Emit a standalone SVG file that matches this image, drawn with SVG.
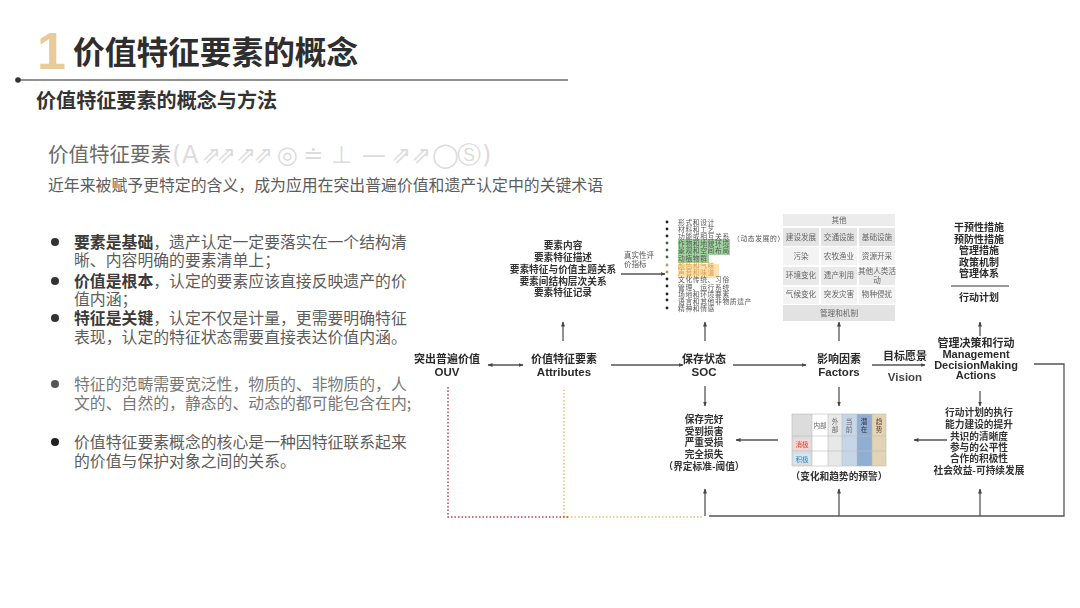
<svg xmlns="http://www.w3.org/2000/svg" width="1080" height="608" viewBox="0 0 1080 608">
<style>
text{font-family:"Noto Sans CJK SC","Liberation Sans",sans-serif}
.en{font-family:"Liberation Sans","Noto Sans CJK SC",sans-serif;font-weight:700}
.b{font-size:15.85px;fill:#5c5c5c}
.s{font-weight:700;fill:#333}
.n{font-size:11px;font-weight:700;fill:#2b2b2b;text-anchor:middle}
.l{font-size:9.7px;font-weight:700;fill:#333;text-anchor:middle}
.i{font-size:6.8px;letter-spacing:.6px;fill:#555}
.g{font-size:7.6px;fill:#666;text-anchor:middle}
.t{font-size:6.6px;fill:#666;text-anchor:middle}
.ln{fill:none;stroke:#555;stroke-width:1.3}
.ar{marker-end:url(#a)}
</style>
<defs>
<marker id="a" markerWidth="6" markerHeight="6" refX="4.5" refY="2.5" orient="auto" markerUnits="userSpaceOnUse"><path d="M0 .5L5 2.5L0 4.5Z" fill="#444"/></marker>
<marker id="as" markerWidth="6" markerHeight="6" refX="4.5" refY="2.5" orient="auto-start-reverse" markerUnits="userSpaceOnUse"><path d="M0 .5L5 2.5L0 4.5Z" fill="#444"/></marker>
<filter id="soft" x="-5%" y="-5%" width="110%" height="110%"><feGaussianBlur stdDeviation="0.3"/></filter>
</defs>
<rect width="1080" height="608" fill="#fff"/>
<g id="header">
<text x="37" y="69" class="en" style="font-size:52px;fill:#e8cb98">1</text>
<text x="73" y="64" style="font-size:31.7px;font-weight:700;fill:#2e2e2e">价值特征要素的概念</text>
<line x1="18" y1="80" x2="568" y2="80" stroke="#6e6e6e" stroke-width="1.6"/>
<circle cx="18" cy="80" r="2.8" fill="#333"/>
<text x="36" y="108" class="s" style="font-size:20.1px">价值特征要素的概念与方法</text>
<text x="48" y="162" style="font-size:20.5px;fill:#6a6a6a">价值特征要素</text>
<text y="163" x="172 182 201 216 236 253 277 303 331 362 391 411 432 457 482" style="font-family:'DejaVu Sans',sans-serif;font-size:24px;fill:#dcdcdc">(A⇗⇗⇗⇗◎≐⊥—⇗⇗◯Ⓢ)</text>
<text x="48" y="191" style="font-size:15.86px;fill:#5c5c5c">近年来被赋予更特定的含义，成为应用在突出普遍价值和遗产认定中的关键术语</text>
</g>
<g id="bullets">
<circle cx="55" cy="242" r="4" fill="#333"/><circle cx="55" cy="281" r="4" fill="#333"/><circle cx="55" cy="318" r="4" fill="#333"/><circle cx="55" cy="384" r="4" fill="#555"/><circle cx="55" cy="442" r="4" fill="#222"/>
<text x="74" y="248" class="b"><tspan font-weight="700" fill="#3a3a3a">要素是基础</tspan>，遗产认定一定要落实在一个结构清</text>
<text x="74" y="266" class="b">晰、内容明确的要素清单上；</text>
<text x="74" y="287" class="b"><tspan font-weight="700" fill="#3a3a3a">价值是根本</tspan>，认定的要素应该直接反映遗产的价</text>
<text x="74" y="305" class="b">值内涵；</text>
<text x="74" y="324" class="b"><tspan font-weight="700" fill="#3a3a3a">特征是关键</tspan>，认定不仅是计量，更需要明确特征</text>
<text x="74" y="343" class="b">表现，认定的特征状态需要直接表达价值内涵。</text>
<text x="74" y="390" class="b" style="fill:#777">特征的范畴需要宽泛性，物质的、非物质的，人</text>
<text x="74" y="409" class="b" style="fill:#777">文的、自然的，静态的、动态的都可能包含在内;</text>
<text x="74" y="448" class="b">价值特征要素概念的核心是一种因特征联系起来</text>
<text x="74" y="467" class="b">的价值与保护对象之间的关系。</text>
</g>
<g filter="url(#soft)">
<g id="connectors">
<path class="ln" d="M488 365H523" marker-start="url(#as)" marker-end="url(#as)"/>
<path class="ln ar" d="M611 365H683"/>
<path class="ln ar" d="M733 365H806"/>
<path class="ln ar" d="M872 365H925"/>
<path class="ln ar" d="M563 341V322"/>
<path class="ln ar" d="M705 341V322"/>
<path class="ln ar" d="M839 341V322"/>
<path class="ln ar" d="M980 336V322"/>
<path class="ln ar" d="M705 386V406"/>
<path class="ln ar" d="M839 387V406"/>
<path class="ln ar" d="M980 391V406"/>
<path class="ln ar" d="M621 274H665"/>
<path class="ln ar" d="M778 440H736"/>
<path class="ln ar" d="M947 440H914"/>
<path class="ln ar" d="M705 516V489"/>
<path class="ln ar" d="M839 516V489"/>
<path class="ln ar" d="M980 516V489"/>
<path class="ln" d="M709 516H1064V364H1034"/>
<path d="M564 517H704M564 517V387" fill="none" stroke="#e2c670" stroke-width="1.5" stroke-dasharray="1.5 2"/>
<path d="M568 517H448V387" fill="none" stroke="#b8404c" stroke-width="1.5" stroke-dasharray="1.5 2"/>
</g>
<g id="node-ouv"><text x="447" y="363" class="n">突出普遍价值</text><text x="447" y="376" class="n en" style="font-size:11.5px">OUV</text></g>
<g id="node-attributes"><text x="564" y="363" class="n">价值特征要素</text><text x="564" y="376" class="n en" style="font-size:11.5px">Attributes</text></g>
<g id="node-soc"><text x="704" y="363" class="n">保存状态</text><text x="704" y="376" class="n en" style="font-size:11.5px">SOC</text></g>
<g id="node-factors"><text x="839" y="363" class="n">影响因素</text><text x="839" y="376" class="n en" style="font-size:11.5px">Factors</text></g>
<g id="label-vision"><text x="905" y="360" class="n">目标愿景</text><text x="905" y="381" class="n en" style="font-size:11.5px;fill:#444">Vision</text></g>
<g id="node-management"><text x="976" y="347" class="n">管理决策和行动</text><text x="976" y="358" class="n en">Management</text><text x="976" y="369" class="n en">DecisionMaking</text><text x="976" y="379" class="n en">Actions</text></g>
<g id="node-attr-content">
<text x="563" y="249" class="l">要素内容</text><text x="563" y="261" class="l">要素特征描述</text><text x="563" y="273" class="l">要素特征与价值主题关系</text><text x="563" y="285" class="l">要素间结构层次关系</text><text x="563" y="296" class="l">要素特征记录</text>
</g>
<g id="label-authenticity"><text x="624" y="258" style="font-size:7.5px;fill:#555">真实性评</text><text x="624" y="267" style="font-size:7.5px;fill:#555">价指标</text></g>
<g id="node-list">
<rect x="678" y="239" width="52" height="16" fill="#9fd49f"/><rect x="678" y="255" width="31" height="8" fill="#9fd49f"/><rect x="678" y="264" width="41" height="14" fill="#fde2b0"/>
<g fill="#222"><circle cx="667" cy="222" r="1.4"/><circle cx="667" cy="229" r="1.4"/><circle cx="667" cy="236" r="1.4"/><circle cx="667" cy="243" r="1.4" fill="#3a6a4a"/><circle cx="667" cy="250" r="1.4" fill="#3a6a4a"/><circle cx="667" cy="257" r="1.4" fill="#3a6a4a"/><circle cx="667" cy="265" r="1.4" fill="#b89a5a"/><circle cx="667" cy="272" r="1.4" fill="#b89a5a"/><circle cx="667" cy="279" r="1.4"/><circle cx="667" cy="286" r="1.4"/><circle cx="667" cy="294" r="1.4"/><circle cx="667" cy="300" r="1.4"/><circle cx="667" cy="308" r="1.4"/></g>
<text x="678" y="225" class="i">形式和设计</text><text x="678" y="232" class="i">材料和工艺</text><text x="678" y="239" class="i">功能或相互关系</text><text x="733" y="241" class="i">（动态发展的）</text><text x="678" y="246" class="i">作物和地貌环境</text><text x="678" y="253" class="i">景观和空间布局</text><text x="678" y="261" class="i">动植物群</text><text x="678" y="268" class="i" style="fill:#d9a050">颜色和气味</text><text x="678" y="275" class="i" style="fill:#d9a050">声音和味道</text><text x="678" y="282" class="i">文化传统、习俗</text><text x="678" y="290" class="i">管理、运行系统</text><text x="678" y="297" class="i">场地和环境要素</text><text x="678" y="304" class="i">语言和其他非物质遗产</text><text x="678" y="311" class="i">精神和情感</text>
</g>
<g id="node-factor-grid">
<rect x="783" y="214" width="112" height="12" fill="#ececec"/>
<rect x="783" y="228" width="36" height="18" fill="#e4e4e4"/><rect x="821" y="228" width="36" height="18" fill="#e4e4e4"/><rect x="859" y="228" width="36" height="18" fill="#e4e4e4"/>
<rect x="783" y="247" width="36" height="18" fill="#f3f3f3"/><rect x="821" y="247" width="36" height="18" fill="#f3f3f3"/><rect x="859" y="247" width="36" height="18" fill="#f3f3f3"/>
<rect x="783" y="267" width="36" height="18" fill="#e9e9e9"/><rect x="821" y="267" width="36" height="18" fill="#e9e9e9"/><rect x="859" y="267" width="36" height="18" fill="#e9e9e9"/>
<rect x="783" y="287" width="36" height="17" fill="#f3f3f3"/><rect x="821" y="287" width="36" height="17" fill="#f3f3f3"/><rect x="859" y="287" width="36" height="17" fill="#f3f3f3"/>
<rect x="783" y="305" width="112" height="16" fill="#e2e2e2"/>
<text x="839" y="223" class="g">其他</text>
<text x="801" y="240" class="g">建设发展</text><text x="839" y="240" class="g">交通设施</text><text x="877" y="240" class="g">基础设施</text>
<text x="801" y="259" class="g">污染</text><text x="839" y="259" class="g">农牧渔业</text><text x="877" y="259" class="g">资源开采</text>
<text x="801" y="278" class="g">环境变化</text><text x="839" y="278" class="g">遗产利用</text><text x="877" y="274" class="g">其他人类活</text><text x="877" y="283" class="g">动</text>
<text x="801" y="297" class="g">气候变化</text><text x="839" y="297" class="g">突发灾害</text><text x="877" y="297" class="g">物种侵扰</text>
<text x="839" y="316" class="g">管理和机制</text>
</g>
<g id="node-actions"><text x="979" y="231" class="n" style="font-size:10px">干预性措施</text><text x="979" y="243" class="n" style="font-size:10px">预防性措施</text><text x="979" y="254" class="n" style="font-size:10px">管理措施</text><text x="979" y="266" class="n" style="font-size:10px">政策机制</text><text x="979" y="277" class="n" style="font-size:10px">管理体系</text><line x1="951" y1="286" x2="1009" y2="286" stroke="#333" stroke-width="1"/><text x="979" y="301" class="n" style="font-size:10px">行动计划</text></g>
<g id="node-status"><text x="704" y="423" class="l">保存完好</text><text x="704" y="435" class="l">受到损害</text><text x="704" y="446" class="l">严重受损</text><text x="704" y="458" class="l">完全损失</text><text x="704" y="470" class="l">（界定标准-阈值）</text></g>
<g id="node-table">
<rect x="792" y="414" width="20" height="52" fill="#dcdcdc"/><rect x="812" y="414" width="16" height="52" fill="#fff"/><rect x="828" y="414" width="14" height="52" fill="#e8e8e8"/><rect x="842" y="414" width="15" height="52" fill="#c6d6e9"/><rect x="857" y="414" width="15" height="52" fill="#90aed1"/><rect x="872" y="414" width="14" height="52" fill="#e2d4b4"/>
<rect x="794" y="439" width="16" height="10" fill="#f8d8d4"/><rect x="794" y="454" width="16" height="10" fill="#d4e6f4"/>
<path d="M792 414H886V466H792ZM792 436H886M792 451H886M812 414V466M828 414V466M842 414V466M857 414V466M872 414V466" fill="none" stroke="#bdbdbd" stroke-width=".6"/>
<text x="820" y="428" class="t">内部</text><text x="835" y="424" class="t">外</text><text x="835" y="432" class="t">部</text><text x="849" y="424" class="t">当</text><text x="849" y="432" class="t">前</text><text x="864" y="424" class="t" style="fill:#334">潜</text><text x="864" y="432" class="t" style="fill:#334">在</text><text x="879" y="424" class="t" style="fill:#643">趋</text><text x="879" y="432" class="t" style="fill:#643">势</text>
<text x="802" y="447" class="t" style="fill:#d8403a">消极</text><text x="802" y="462" class="t" style="fill:#3080b8">积极</text>
<text x="839" y="480" class="l">（变化和趋势的预警）</text>
</g>
<g id="node-implementation"><text x="979" y="416" class="l">行动计划的执行</text><text x="979" y="428" class="l">能力建设的提升</text><text x="979" y="440" class="l">共识的清晰度</text><text x="979" y="451" class="l">参与的公平性</text><text x="979" y="462" class="l">合作的积极性</text><text x="979" y="474" class="l">社会效益-可持续发展</text></g>
</g>
</svg>
